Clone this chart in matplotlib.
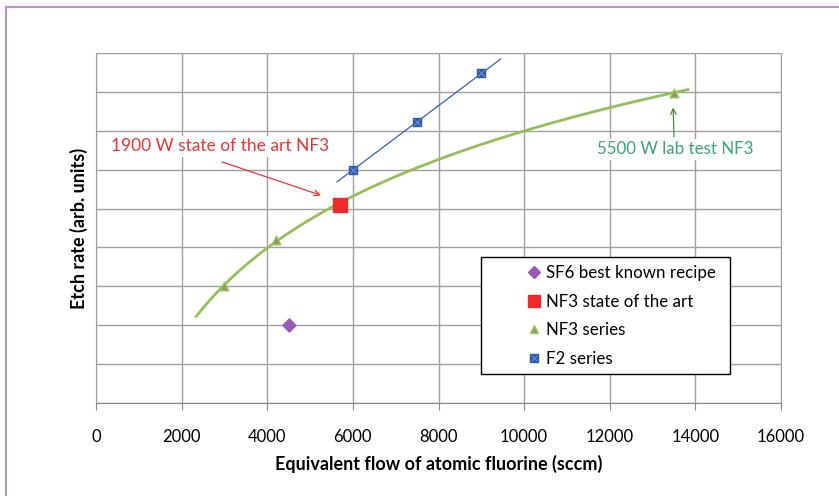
import numpy as np
import matplotlib.pyplot as plt
from matplotlib.lines import Line2D
from matplotlib.patches import Rectangle

plt.rcParams['font.family'] = ['Lato', 'DejaVu Sans']

# data (y in arbitrary units, grid step = 1)
sf6_x = [4500]
sf6_y = [2.0]
nf3_art_x = [5700]
nf3_art_y = [5.1]
nf3_x = [3000, 4200, 13500]
nf3_y = [3.0, 4.2, 7.97]
f2_x = [6000, 7500, 9000]
f2_y = [6.0, 7.22, 8.48]

fig = plt.figure(figsize=(8.39, 4.96), dpi=100)
ax = fig.add_axes([0.1144, 0.1875, 0.8165, 0.7056])

# trendlines like the spreadsheet ones: log fit for NF3, linear for F2
a, b = np.polyfit(np.log(nf3_x), nf3_y, 1)
tx = np.linspace(2340, 13830, 200)
ax.plot(tx, a * np.log(tx) + b, color='#92c05a', lw=2, zorder=3)
m, c = np.polyfit(f2_x, f2_y, 1)
fx = np.linspace(5630, 9450, 50)
ax.plot(fx, m * fx + c, color='#3060c0', lw=0.9, zorder=3)

ax.scatter(sf6_x, sf6_y, marker='D', s=45, color='#9b59b6', zorder=4)
ax.scatter(nf3_art_x, nf3_art_y, marker='s', s=110, color='#ee2a2a', zorder=4)
ax.scatter(nf3_x, nf3_y, marker='^', s=40, facecolor='#8a9a78', edgecolor='#9bcc50', lw=1, zorder=4)
ax.scatter(f2_x, f2_y, marker='s', s=36, facecolor='#2f5aa8', edgecolor='#2f5aa8', zorder=4)
ax.scatter(f2_x, f2_y, marker='x', s=22, color='#6a8ad0', lw=0.8, zorder=5)

ax.set_xlim(0, 16000)
ax.set_ylim(0, 9)
ax.set_xticks(range(0, 16001, 2000))
ax.set_yticks(range(0, 10))
ax.set_yticklabels([])
ax.tick_params(axis='y', length=0)
ax.tick_params(axis='x', length=5, color='#888888', labelsize=12, pad=14)
ax.grid(True, color='#a0a0a0', lw=1)
ax.set_axisbelow(True)
for s in ['top', 'right', 'left']:
    ax.spines[s].set_color('#a0a0a0')
ax.spines['bottom'].set_color('#888888')

ax.set_xlabel('Equivalent flow of atomic fluorine (sccm)', fontsize=13, fontweight='bold', labelpad=7)
ax.set_ylabel('Etch rate (arb. units)', fontsize=13, fontweight='bold', labelpad=2)

ax.text(2897, 6.6, '1900 W state of the art NF3', color='#ee3333', fontsize=12.5,
        ha='center', va='center', zorder=6,
        bbox=dict(boxstyle='square,pad=0.15', fc='white', ec='none'))
ax.annotate('', xy=(5257, 5.34), xytext=(2944, 6.2),
            arrowprops=dict(arrowstyle='->', color='#ee3333', lw=0.9, shrinkA=0, shrinkB=0))
ax.annotate('', xy=(13480, 7.6), xytext=(13500, 6.84),
            arrowprops=dict(arrowstyle='->', color='#5a8a40', lw=0.9, shrinkA=0, shrinkB=0))
ax.text(13530, 6.52, '5500 W lab test NF3', color='#3aa577', fontsize=12.2, ha='center', va='center',
        bbox=dict(boxstyle='square,pad=0.15', fc='white', ec='none'), zorder=6)

# legend: box drawn separately, entries placed inside it
ax.add_patch(Rectangle((0.562, 0.083), 0.3635, 0.334, transform=ax.transAxes,
                       fc='white', ec='black', lw=1, zorder=7))
handles = [
    Line2D([], [], ls='none', marker='D', ms=6, color='#9b59b6'),
    Line2D([], [], ls='none', marker='s', ms=9, color='#ee2a2a'),
    Line2D([], [], ls='none', marker='^', ms=6, mfc='#8a9a78', mec='#9bcc50'),
    (Line2D([], [], ls='none', marker='s', ms=6, color='#2f5aa8'),
     Line2D([], [], ls='none', marker='x', ms=4, mew=0.8, color='#6a8ad0')),
]
labels = ['SF6 best known recipe', 'NF3 state of the art', 'NF3 series', 'F2 series']
leg = ax.legend(handles, labels, loc='upper left', bbox_to_anchor=(0.629, 0.394),
                fontsize=12.2, frameon=False, borderpad=0, borderaxespad=0,
                handletextpad=0.35, handlelength=0.8, labelspacing=0.74)
leg.set_zorder(8)

# purple frame around the chart (left and top edges visible)
fig.add_artist(Line2D([0.0066, 0.0066], [0, 0.985], color='#c08ec8', lw=1.5))
fig.add_artist(Line2D([0.0066, 1], [0.985, 0.985], color='#c08ec8', lw=1.5))

fig.savefig('out.png', dpi=100)
